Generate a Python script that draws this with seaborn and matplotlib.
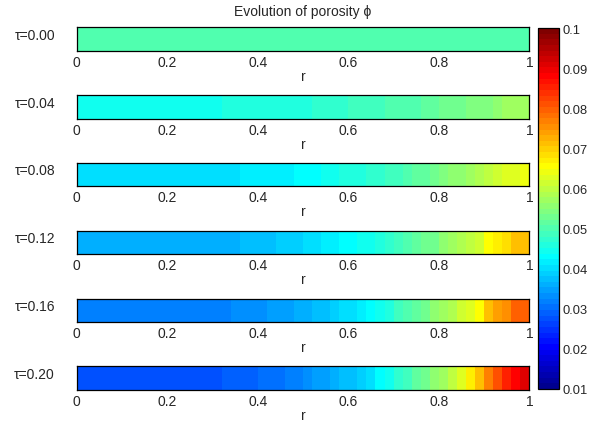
import numpy as np
import pandas as pd
import matplotlib
matplotlib.use("Agg")
import matplotlib.pyplot as plt
from matplotlib.colors import ListedColormap
import seaborn as sns

# ---- data -------------------------------------------------------------
taus = ["0.00", "0.04", "0.08", "0.12", "0.16", "0.20"]
r_ticks = [0, 0.2, 0.4, 0.6, 0.8, 1]
r_tick_labels = ["0", "0.2", "0.4", "0.6", "0.8", "1"]
cbar_ticks = [0.01, 0.02, 0.03, 0.04, 0.05, 0.06, 0.07, 0.08, 0.09, 0.1]
cbar_labels = ["0.01", "0.02", "0.03", "0.04", "0.05", "0.06", "0.07", "0.08", "0.09", "0.1"]
phi_min, phi_max = 0.01, 0.1

# porosity on 50 uniform radial cells (r = 0.01, 0.03, ..., 0.99)
phi_t000 = [0.0500, 0.0500, 0.0500, 0.0500, 0.0500, 0.0500, 0.0500, 0.0500, 0.0500, 0.0500,
            0.0500, 0.0500, 0.0500, 0.0500, 0.0500, 0.0500, 0.0500, 0.0500, 0.0500, 0.0500,
            0.0500, 0.0500, 0.0500, 0.0500, 0.0500, 0.0500, 0.0500, 0.0500, 0.0500, 0.0500,
            0.0500, 0.0500, 0.0500, 0.0500, 0.0500, 0.0500, 0.0500, 0.0500, 0.0500, 0.0500,
            0.0500, 0.0500, 0.0500, 0.0500, 0.0500, 0.0500, 0.0500, 0.0500, 0.0500, 0.0500]
phi_t004 = [0.0445, 0.0445, 0.0445, 0.0445, 0.0445, 0.0445, 0.0445, 0.0445, 0.0445, 0.0445,
            0.0445, 0.0445, 0.0445, 0.0445, 0.0445, 0.0445, 0.0459, 0.0459, 0.0459, 0.0459,
            0.0459, 0.0459, 0.0459, 0.0459, 0.0459, 0.0459, 0.0473, 0.0473, 0.0473, 0.0473,
            0.0487, 0.0487, 0.0487, 0.0487, 0.0501, 0.0501, 0.0501, 0.0501, 0.0515, 0.0515,
            0.0529, 0.0529, 0.0529, 0.0543, 0.0543, 0.0543, 0.0557, 0.0571, 0.0571, 0.0571]
phi_t008 = [0.0402, 0.0402, 0.0402, 0.0402, 0.0402, 0.0402, 0.0402, 0.0402, 0.0402, 0.0402,
            0.0402, 0.0402, 0.0402, 0.0402, 0.0402, 0.0402, 0.0402, 0.0402, 0.0416, 0.0416,
            0.0416, 0.0416, 0.0416, 0.0416, 0.0430, 0.0430, 0.0430, 0.0445, 0.0445, 0.0459,
            0.0459, 0.0459, 0.0473, 0.0473, 0.0487, 0.0487, 0.0501, 0.0515, 0.0515, 0.0529,
            0.0543, 0.0557, 0.0557, 0.0571, 0.0585, 0.0599, 0.0613, 0.0627, 0.0627, 0.0641]
phi_t012 = [0.0360, 0.0360, 0.0360, 0.0360, 0.0360, 0.0360, 0.0360, 0.0360, 0.0360, 0.0360,
            0.0360, 0.0360, 0.0360, 0.0360, 0.0360, 0.0360, 0.0360, 0.0360, 0.0374, 0.0374,
            0.0374, 0.0374, 0.0388, 0.0388, 0.0388, 0.0402, 0.0402, 0.0416, 0.0416, 0.0430,
            0.0430, 0.0445, 0.0445, 0.0459, 0.0473, 0.0487, 0.0501, 0.0515, 0.0529, 0.0529,
            0.0557, 0.0571, 0.0585, 0.0599, 0.0613, 0.0655, 0.0670, 0.0684, 0.0712, 0.0712]
phi_t016 = [0.0318, 0.0318, 0.0318, 0.0318, 0.0318, 0.0318, 0.0318, 0.0318, 0.0318, 0.0318,
            0.0318, 0.0318, 0.0318, 0.0318, 0.0318, 0.0318, 0.0318, 0.0332, 0.0332, 0.0332,
            0.0332, 0.0346, 0.0346, 0.0346, 0.0360, 0.0360, 0.0374, 0.0374, 0.0388, 0.0402,
            0.0402, 0.0416, 0.0430, 0.0445, 0.0459, 0.0487, 0.0501, 0.0515, 0.0529, 0.0557,
            0.0571, 0.0585, 0.0613, 0.0627, 0.0655, 0.0712, 0.0740, 0.0754, 0.0796, 0.0796]
phi_t020 = [0.0276, 0.0276, 0.0276, 0.0276, 0.0276, 0.0276, 0.0276, 0.0276, 0.0276, 0.0276,
            0.0276, 0.0276, 0.0276, 0.0276, 0.0276, 0.0276, 0.0290, 0.0290, 0.0290, 0.0290,
            0.0304, 0.0304, 0.0304, 0.0318, 0.0318, 0.0332, 0.0346, 0.0346, 0.0360, 0.0374,
            0.0374, 0.0388, 0.0402, 0.0430, 0.0445, 0.0473, 0.0487, 0.0515, 0.0529, 0.0557,
            0.0571, 0.0599, 0.0627, 0.0670, 0.0712, 0.0768, 0.0810, 0.0852, 0.0880, 0.0909]
profiles = [phi_t000, phi_t004, phi_t008, phi_t012, phi_t016, phi_t020]


def matlab_jet(n=64):
    """Classic 64-level jet palette."""
    m = int(np.ceil(n / 4))
    u = np.concatenate([np.arange(1, m + 1) / m, np.ones(m - 1), np.arange(m, 0, -1) / m])
    g = int(np.ceil(m / 2)) - (1 if n % 4 == 1 else 0) + np.arange(1, len(u) + 1)
    r = g + m
    b = g - m
    J = np.zeros((n, 3))
    for ch, idx in ((0, r), (1, g), (2, b)):
        ok = (idx >= 1) & (idx <= n)
        J[idx[ok] - 1, ch] = u[ok]
    return ListedColormap(J, name="jet64")


sns.set_style("white")
plt.rcParams["font.family"] = ["Liberation Sans", "DejaVu Sans"]
plt.rcParams["axes.unicode_minus"] = False

W, H = 589, 427
fig = plt.figure(figsize=(W / 100, H / 100), dpi=100, facecolor="white")

left_px, width_px = 76.7, 452.7
height_px = 23.4
tops_px = [28.3 + k * 67.8 for k in range(len(taus))]

cax = fig.add_axes([537.7 / W, 1 - 390 / H, 21.6 / W, 361 / H])
jet = matlab_jet(64)

axes = []
for k, (tau, vals) in enumerate(zip(taus, profiles)):
    top = tops_px[k]
    ax = fig.add_axes([left_px / W, 1 - (top + height_px) / H, width_px / W, height_px / H])
    axes.append(ax)
    n_cells = len(vals)
    df = pd.DataFrame([vals])
    last = k == len(taus) - 1
    sns.heatmap(df, ax=ax, cmap=jet, vmin=phi_min, vmax=phi_max,
                cbar=last, cbar_ax=cax if last else None,
                xticklabels=False, yticklabels=False, linewidths=0)
    ax.set_xticks([t * n_cells for t in r_ticks])
    ax.set_xticklabels(r_tick_labels, fontsize=10)
    ax.set_yticks([])
    ax.tick_params(axis="x", direction="in", top=True, bottom=True,
                   length=2.5, width=0.6, color="black", pad=3, labelsize=10)
    for sp in ax.spines.values():
        sp.set_visible(True)
        sp.set_color("black")
        sp.set_linewidth(0.9)
    ax.set_xlabel("r", fontsize=10, labelpad=0)
    ax.set_ylabel(f"τ={tau}", rotation=0, ha="right", va="center", fontsize=10)
    ax.yaxis.set_label_coords(-0.048, 0.68)

axes[0].set_title("Evolution of porosity ϕ", fontsize=10, pad=9)

cbar = axes[-1].collections[0].colorbar
cbar.set_ticks(cbar_ticks)
cbar.set_ticklabels(cbar_labels)
cbar.outline.set_visible(True)
cbar.outline.set_edgecolor("black")
cbar.outline.set_linewidth(0.9)
cax.tick_params(axis="y", direction="in", right=True, left=False,
                length=3, width=0.6, color="black", pad=2, labelsize=9.3)

fig.savefig("out.png", dpi=100, facecolor="white")
